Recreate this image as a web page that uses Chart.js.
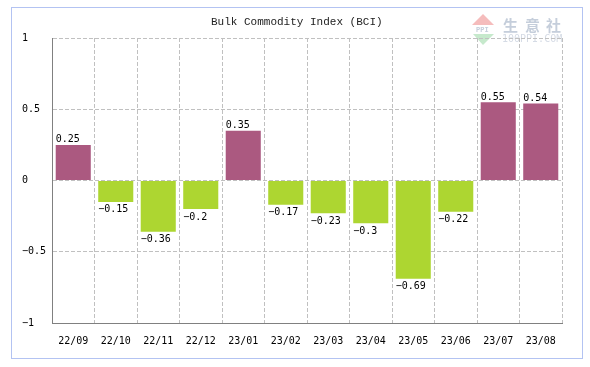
<!DOCTYPE html>
<html>
<head>
<meta charset="utf-8">
<style>
    html, body { margin: 0; padding: 0; background: #fff; }
    #frame { position: absolute; left: 11px; top: 7px; width: 570px; height: 350px; border: 1px solid #b3c3f2; }
    #bci { position: absolute; left: 0; top: 0; }
</style>
<script src="https://cdn.jsdelivr.net/npm/chart.js@4/dist/chart.umd.js"></script>
</head>
<body>
<div id="frame"></div>
<canvas id="bci" width="590" height="367"></canvas>
<script>
const titleText = 'Bulk Commodity Index (BCI)';
const categories = ['22/09', '22/10', '22/11', '22/12', '23/01', '23/02', '23/03', '23/04', '23/05', '23/06', '23/07', '23/08'];
const values = [0.25, -0.15, -0.36, -0.2, 0.35, -0.17, -0.23, -0.3, -0.69, -0.22, 0.55, 0.54];
const yTicks = [1, 0.5, 0, -0.5, -1];

const upColor = '#ab5980';
const downColor = '#add631';
const titleFont = '"Liberation Mono", monospace';
const numberFont = '"DejaVu Sans Mono", monospace';

// Title and the faint site watermark, drawn under the grid
const backdrop = {
    id: 'backdrop',
    beforeDraw(chart) {
        const ctx = chart.ctx;
        ctx.save();
        ctx.fillStyle = '#222';
        ctx.font = '11px ' + titleFont;
        ctx.textAlign = 'left';
        ctx.textBaseline = 'middle';
        ctx.fillText(titleText, 211, 22);

        ctx.fillStyle = '#f5bcbc';
        ctx.beginPath();
        ctx.moveTo(483, 14);
        ctx.lineTo(472, 25);
        ctx.lineTo(494, 25);
        ctx.fill();
        ctx.fillStyle = '#c6e9cc';
        ctx.beginPath();
        ctx.moveTo(473, 34);
        ctx.lineTo(494, 34);
        ctx.lineTo(483, 45);
        ctx.fill();

        ctx.fillStyle = '#c5cedb';
        ctx.font = 'bold 7px ' + titleFont;
        ctx.fillText('PPI', 476, 30);
        ctx.font = 'bold 15px "Noto Sans CJK SC"';
        ctx.fillText('生', 503, 25);
        ctx.fillText('意', 525, 25);
        ctx.fillText('社', 546, 25);
        ctx.fillStyle = '#d5dbe5';
        ctx.font = '10px ' + numberFont;
        ctx.fillText('100PPI.COM', 502, 39);
        ctx.restore();
    }
};

// Value above positive bars, below negative ones
const barLabels = {
    id: 'barLabels',
    afterDatasetsDraw(chart) {
        const ctx = chart.ctx;
        const meta = chart.getDatasetMeta(0);
        ctx.save();
        ctx.fillStyle = '#000';
        ctx.font = '10px ' + numberFont;
        ctx.textAlign = 'left';
        ctx.textBaseline = 'middle';
        values.forEach((v, i) => {
            const bar = meta.data[i];
            const x = bar.x - bar.width / 2;
            ctx.fillText(String(v).replace('-', '\u2212'), x, v >= 0 ? bar.y - 5 : bar.y + 8);
        });
        ctx.restore();
    }
};

new Chart(document.getElementById('bci'), {
    type: 'bar',
    data: {
        labels: categories,
        datasets: [{
            data: values,
            backgroundColor: values.map(v => v >= 0 ? upColor : downColor),
            barPercentage: 1,
            categoryPercentage: 0.825
        }]
    },
    plugins: [backdrop, barLabels],
    options: {
        responsive: false,
        animation: false,
        layout: { padding: { left: 22, right: 28, top: 38, bottom: 0 } },
        plugins: {
            legend: { display: false },
            title: { display: false },
            tooltip: { enabled: false }
        },
        scales: {
            x: {
                afterFit(scale) { scale.height = 44; },
                border: { color: '#808080', width: 1, dash: [4, 2] },
                grid: { color: '#c0c0c0', drawTicks: false },
                ticks: { color: '#000', padding: 12, maxRotation: 0, autoSkip: false, font: { family: numberFont, size: 10 } }
            },
            y: {
                min: -1,
                max: 1,
                afterFit(scale) { scale.width = 30; },
                afterBuildTicks(scale) { scale.ticks = yTicks.map(value => ({ value })); },
                border: { color: '#808080', width: 1, dash: [4, 2] },
                grid: { color: '#c0c0c0', drawTicks: false },
                ticks: {
                    color: '#000',
                    padding: 7,
                    crossAlign: 'far',
                    font: { family: numberFont, size: 10 },
                    callback: value => String(value).replace('-', '\u2212')
                }
            }
        }
    }
});
</script>
</body>
</html>
